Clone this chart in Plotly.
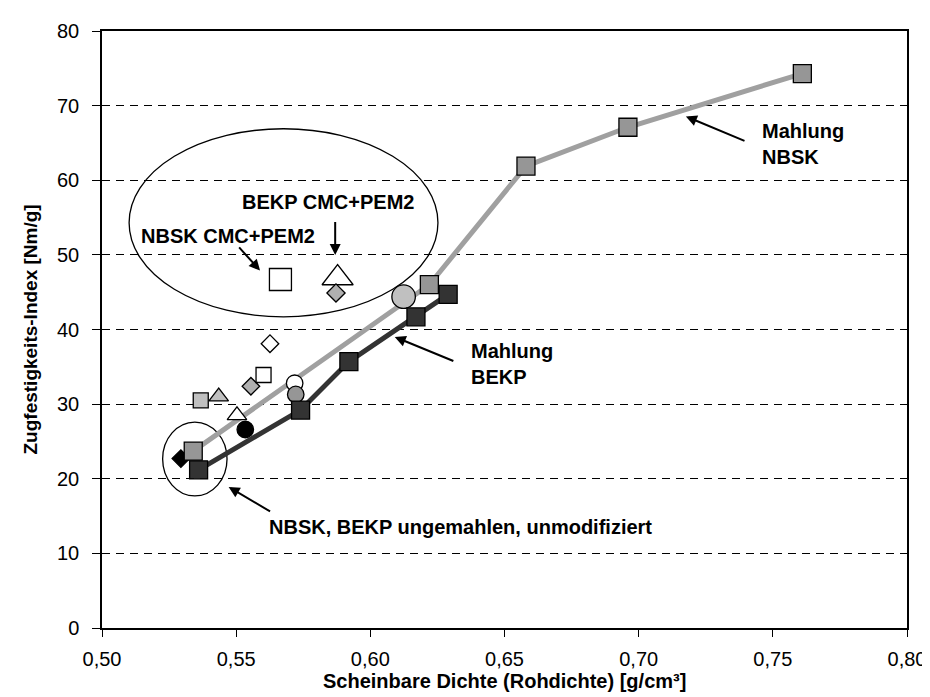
import plotly.graph_objects as go

# ---- data ----
nbsk_x = [0.534, 0.622, 0.658, 0.696, 0.761]
nbsk_y = [23.7, 46.0, 61.9, 67.1, 74.3]
bekp_x = [0.536, 0.574, 0.592, 0.617, 0.629]
bekp_y = [21.2, 29.2, 35.7, 41.7, 44.7]

# individual modified samples
pt_names = ["black_diamond", "lg_square", "lg_triangle", "w_triangle", "b_circle",
            "g_diamond", "w_square", "w_diamond", "w_circle", "g_circle",
            "cmc_square", "cmc_triangle", "cmc_diamond", "big_circle"]
pt_x = [0.5294, 0.5368, 0.5435, 0.5503, 0.5534, 0.5555, 0.5602, 0.5626, 0.5718, 0.5722,
        0.5665, 0.5878, 0.5872, 0.6124]
pt_y = [22.7, 30.5, 31.0, 28.5, 26.6, 32.4, 33.9, 38.1, 32.8, 31.3,
        46.7, 46.9, 44.9, 44.4]
pt_symbol = ["diamond", "square", "triangle-up", "triangle-up", "circle",
             "diamond", "square", "diamond", "circle", "circle",
             "square", "triangle-up", "diamond", "circle"]
pt_fill = ["#000000", "#C0C0C0", "#C0C0C0", "#FFFFFF", "#000000",
           "#B0B0B0", "#FFFFFF", "#FFFFFF", "#FFFFFF", "#969696",
           "#FFFFFF", "#FFFFFF", "#B0B0B0", "#C0C0C0"]
pt_size = [13.5, 15, 17, 17, 16.5, 13.5, 15, 13.5, 16.5, 16.5, 22, 27, 14, 23.5]

x_ticks = [0.50, 0.55, 0.60, 0.65, 0.70, 0.75, 0.80]
y_ticks = [0, 10, 20, 30, 40, 50, 60, 70, 80]

FONT = "Liberation Sans, Arial, sans-serif"

fig = go.Figure()

def add_pt(i):
    fig.add_trace(go.Scatter(
        x=[pt_x[i]], y=[pt_y[i]], mode="markers", name=pt_names[i],
        marker=dict(symbol=pt_symbol[i], size=pt_size[i], color=pt_fill[i],
                    line=dict(color="#000000", width=1.3)),
        showlegend=False, hoverinfo="x+y"))

add_pt(0)

fig.add_trace(go.Scatter(
    x=nbsk_x, y=nbsk_y, mode="lines+markers", name="Mahlung NBSK",
    line=dict(color="#A0A0A0", width=5),
    marker=dict(symbol="square", size=18, color="#969696",
                line=dict(color="#000000", width=1.3)),
    showlegend=False))

for i in range(1, len(pt_x)):
    add_pt(i)

fig.add_trace(go.Scatter(
    x=bekp_x, y=bekp_y, mode="lines+markers", name="Mahlung BEKP",
    line=dict(color="#333333", width=5),
    marker=dict(symbol="square", size=18, color="#333333",
                line=dict(color="#000000", width=1.3)),
    showlegend=False))

# ellipses
fig.add_shape(type="circle", xref="x", yref="y", x0=0.5101, x1=0.6252, y0=41.7, y1=66.9,
              line=dict(color="#000000", width=1.3), layer="below")
fig.add_shape(type="circle", xref="x", yref="y", x0=0.5226, x1=0.5466, y0=17.7, y1=27.6,
              line=dict(color="#000000", width=1.3), layer="below")

afont = dict(family=FONT, size=20, color="#000000")

def arrow(hx, hy, tx, ty):
    fig.add_annotation(x=hx, y=hy, ax=tx, ay=ty, xref="x", yref="y", axref="x", ayref="y",
                       text="", showarrow=True, arrowhead=2, arrowsize=1.1,
                       arrowwidth=2, arrowcolor="#000000")

def label(x, y, text, xanchor="left"):
    fig.add_annotation(x=x, y=y, xref="x", yref="y", text=text, showarrow=False,
                       xanchor=xanchor, yanchor="middle", align="left", font=afont)

label(0.7452, 64.8, "<b>Mahlung<br>NBSK</b>")
arrow(0.7176, 68.55, 0.7400, 65.2)
label(0.6368, 35.4, "<b>Mahlung<br>BEKP</b>")
arrow(0.6091, 39.0, 0.6315, 35.7)
label(0.5841, 57.1, "<b>BEKP CMC+PEM2</b>", "center")
arrow(0.5869, 50.0, 0.5869, 54.6)
label(0.5470, 52.5, "<b>NBSK CMC+PEM2</b>", "center")
arrow(0.5589, 47.9, 0.5506, 51.2)
label(0.5614, 13.5, "<b>NBSK, BEKP ungemahlen, unmodifiziert</b>")
arrow(0.5472, 18.9, 0.5632, 15.5)

# axis titles
fig.add_annotation(xref="paper", yref="paper", x=0.5, y=0, yanchor="middle", yshift=-53,
                   text="<b>Scheinbare Dichte (Rohdichte) [g/cm³]</b>", showarrow=False,
                   font=afont)
fig.add_annotation(xref="paper", yref="paper", x=0, y=0.5, xanchor="center", xshift=-72,
                   textangle=-90, text="<b>Zugfestigkeits-Index [Nm/g]</b>", showarrow=False,
                   font=dict(family=FONT, size=19, color="#000000"))

fig.update_layout(
    width=930, height=697, autosize=False,
    margin=dict(l=94, r=23, t=17, b=77),
    paper_bgcolor="#FFFFFF", plot_bgcolor="#FFFFFF",
    separators=",.",
    font=dict(family=FONT, size=20, color="#000000"),
)
fig.update_xaxes(range=[0.50, 0.80], tickvals=x_ticks, tickformat=".2f",
                 showgrid=False, zeroline=False,
                 showline=True, linecolor="#000000", linewidth=1.5, mirror=True,
                 ticks="outside", ticklen=7, tickcolor="#000000", tickwidth=1.3,
                 ticklabelstandoff=5, tickfont=dict(family=FONT, size=20))
fig.update_yaxes(range=[0, 80], tickvals=y_ticks,
                 showgrid=True, gridcolor="#000000", gridwidth=1, griddash="8px,6px",
                 zeroline=False,
                 showline=True, linecolor="#000000", linewidth=1.5, mirror=True,
                 ticks="outside", ticklen=8, tickcolor="#000000", tickwidth=1.3,
                 ticklabelstandoff=9, tickfont=dict(family=FONT, size=20))

fig.write_html("out.html")
